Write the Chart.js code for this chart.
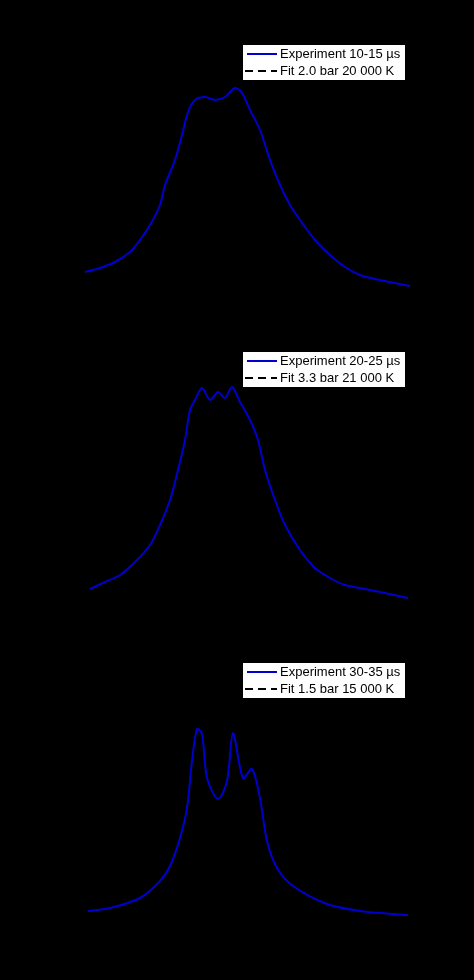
<!DOCTYPE html>
<html><head>
<script src="https://cdn.jsdelivr.net/npm/chart.js@4"></script>
<style>
body{margin:0;background:#000;}
.p{position:absolute;left:0;width:474px;height:327px;}
</style></head>
<body>
<div class="p" style="top:0"><canvas id="c1"></canvas></div>
<div class="p" style="top:327px"><canvas id="c2"></canvas></div>
<div class="p" style="top:654px"><canvas id="c3"></canvas></div>
<script>
// wavelength positions (px-like units) and intensities (arbitrary units)
const x1 = [85,100,115,130,140,150,160,165,175,182,188,195,205,215,225,235,242,250,260,270,280,290,300,315,330,345,360,380,410];
const exp1 = [55,59,65,75,87,102,122,142,167,192,215,227,230,227,230,239,234,217,197,167,142,122,107,87,72,60,52,47,41];
const x2 = [90,105,120,135,150,160,170,178,185,190,195,202,210,218,225,232,240,250,258,265,275,285,300,315,330,345,360,380,408];
const exp2 = [65,72,79,92,109,129,154,184,214,244,254,266,254,262,256,267,252,234,214,184,154,129,104,86,76,69,66,62,56];
const x3 = [88,110,140,160,170,180,187,192,197,202,207,218,227,233,243,252,260,267,277,293,327,360,393,408];
const exp3 = [70,73,83,100,115,143,173,220,252,247,203,182,200,248,203,212,183,140,113,95,77,70,67,66];
const labels1 = ["Experiment 10-15 \u00b5s","Fit 2.0 bar 20 000 K"];
const labels2 = ["Experiment 20-25 \u00b5s","Fit 3.3 bar 21 000 K"];
const labels3 = ["Experiment 30-35 \u00b5s","Fit 1.5 bar 15 000 K"];

const legendBox = {
  id:'legendBox',
  afterDraw(chart, args, o){
    const c = chart.ctx, x = o.x, y = o.y;
    c.save();
    c.fillStyle='#fff'; c.fillRect(x,y,162,35);
    c.lineWidth=2;
    c.strokeStyle='#0000cc'; c.beginPath(); c.moveTo(x+4,y+9); c.lineTo(x+34,y+9); c.stroke();
    c.strokeStyle='#000'; c.setLineDash([8,5]); c.beginPath(); c.moveTo(x+2,y+26); c.lineTo(x+34,y+26); c.stroke();
    c.setLineDash([]);
    c.fillStyle='#000'; c.font='13px "Liberation Sans", Arial'; c.textBaseline='middle';
    c.fillText(o.labels[0],x+37,y+9); c.fillText(o.labels[1],x+37,y+26);
    c.restore();
  }
};

function make(id, xs, ys, labels, ly){
  const pts = xs.map((v,i)=>({x:v,y:ys[i]}));
  new Chart(document.getElementById(id), {
    type:'line',
    data:{datasets:[
      {data:pts,borderColor:'#0000cc',borderWidth:2,pointRadius:0,tension:0.3},
      {data:pts,borderColor:'#000',borderWidth:2,borderDash:[10,14],pointRadius:0,tension:0.3}
    ]},
    options:{
      responsive:true,maintainAspectRatio:false,animation:false,
      layout:{padding:0},
      scales:{x:{type:'linear',min:0,max:474,display:false},y:{min:0,max:327,display:false}},
      plugins:{legend:{display:false},tooltip:{enabled:false},legendBox:{x:243,y:ly,labels:labels}}
    },
    plugins:[legendBox]
  });
}
make('c1',x1,exp1,labels1,45);
make('c2',x2,exp2,labels2,25);
make('c3',x3,exp3,labels3,9);
</script>
</body></html>
